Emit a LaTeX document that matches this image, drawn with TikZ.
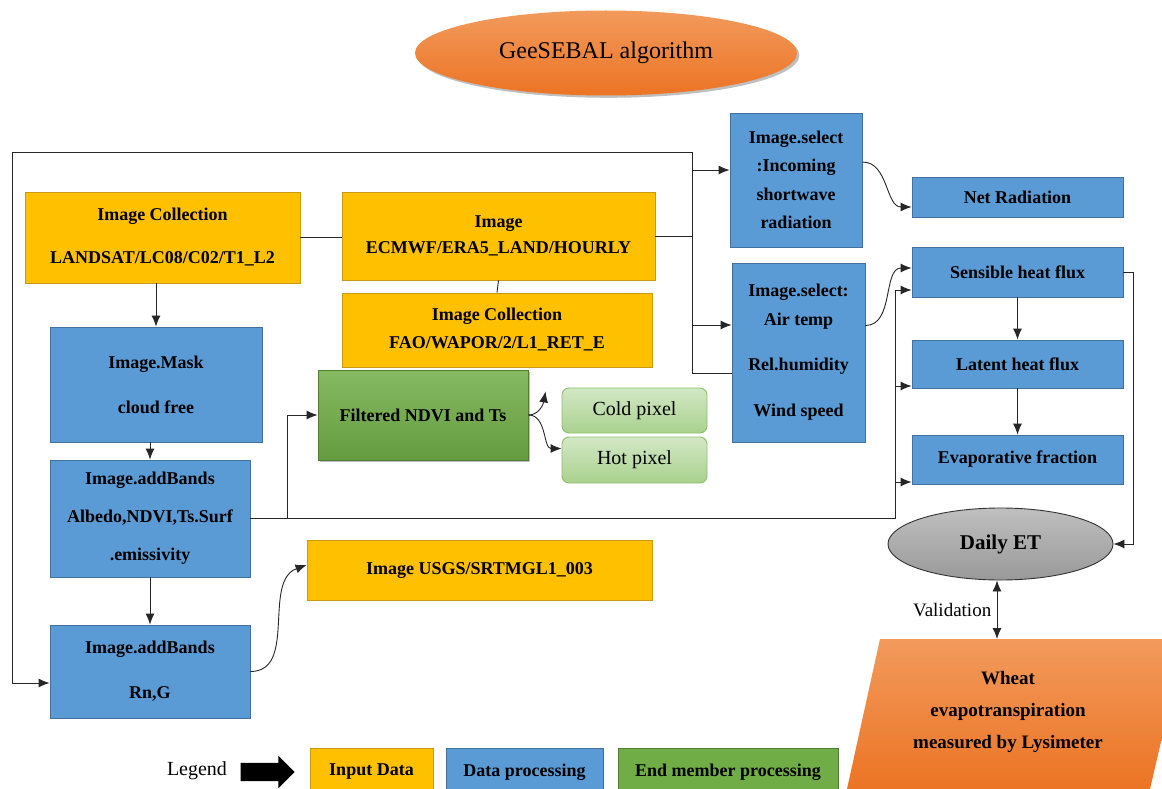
\documentclass[tikz,border=0pt]{standalone}
\usepackage{fontspec}
\setmainfont{Liberation Serif}
\usetikzlibrary{shapes.geometric}
\usetikzlibrary{shapes.arrows}
\usetikzlibrary{shadows}
\usetikzlibrary{arrows.meta}

\definecolor{inputfill}{HTML}{FFC000}
\definecolor{inputline}{HTML}{C99A10}
\definecolor{procfill}{HTML}{5B9BD5}
\definecolor{procline}{HTML}{41719C}
\definecolor{endfill}{HTML}{70AD47}
\definecolor{endline}{HTML}{507E32}
\definecolor{pixtop}{HTML}{D3E8C6}
\definecolor{pixbot}{HTML}{A9D18E}
\definecolor{pixline}{HTML}{8CC168}
\definecolor{orangetop}{HTML}{F29A5C}
\definecolor{orangebot}{HTML}{EC7424}

\tikzset{
  base/.style={align=center, inner sep=0pt, line width=0.9pt, font=\bfseries\fontsize{18}{22}\selectfont},
  inbox/.style={base, draw=inputline, fill=inputfill},
  procbox/.style={base, draw=procline, fill=procfill},
  endbox/.style={base, draw=endline, fill=endfill},
  pixbox/.style={base, font=\fontsize{20}{24}\selectfont, rounded corners=7pt, draw=pixline, top color=pixtop, bottom color=pixbot},
  conn/.style={line width=0.9pt, draw=black!85},
  arr/.style={conn, -{Latex[length=11pt, width=9pt]}},
}

\begin{document}
\begin{tikzpicture}[x=1pt, y=-1pt]

      % Page frame
      \fill[white] (0,0) rectangle (1162,789);
      \useasboundingbox (0,0) rectangle (1162,789);
      \clip (0,0) rectangle (1162,789);

      % Title
      \node[ellipse, minimum width=382pt, minimum height=85pt, top color=orangetop, bottom color=orangebot,
            drop shadow, font=\fontsize{24}{28}\selectfont] (title) at (606,53) {GeeSEBAL algorithm};

      % Input data
      \node[inbox, minimum width=275pt, minimum height=91pt] (land) at (162.5,237.5) {Image Collection\\[21pt]LANDSAT/LC08/C02/T1\_L2};
      \node[inbox, minimum width=313pt, minimum height=88pt] (era) at (498.5,236) {Image\\[4pt]ECMWF/ERA5\_LAND/HOURLY};
      \node[inbox, minimum width=310pt, minimum height=74pt] (fao) at (497,330) {Image Collection\\[6pt]FAO/WAPOR/2/L1\_RET\_E};
      \node[inbox, minimum width=345pt, minimum height=60pt] (usgs) at (479.5,570) {Image USGS/SRTMGL1\_003};

      % Data processing
      \node[procbox, minimum width=212pt, minimum height=115pt] (mask) at (156,384.5) {Image.Mask\\[23pt]cloud free};
      \node[procbox, minimum width=200pt, minimum height=117pt] (bands) at (150,518.5) {Image.addBands\\[16pt]Albedo,NDVI,Ts.Surf\\[16pt].emissivity};
      \node[procbox, minimum width=200pt, minimum height=93pt] (rng) at (150,671.5) {Image.addBands\\[23pt]Rn,G};
      \node[procbox, minimum width=132pt, minimum height=134pt] (inc) at (796,180) {Image.select\\[6.5pt]:Incoming\\[6.5pt]shortwave\\[6.5pt]radiation};
      \node[procbox, minimum width=133pt, minimum height=179pt] (air) at (798.5,352.5) {Image.select:\\[7pt]Air temp\\[23pt]Rel.humidity\\[24pt]Wind speed};
      \node[procbox, minimum width=211pt, minimum height=40pt] (net) at (1017.5,197) {Net Radiation};
      \node[procbox, minimum width=211pt, minimum height=50pt] (sens) at (1017.5,272) {Sensible heat flux};
      \node[procbox, minimum width=211pt, minimum height=48pt] (lat) at (1017.5,364) {Latent heat flux};
      \node[procbox, minimum width=211pt, minimum height=49pt] (evap) at (1017.5,459.5) {Evaporative fraction};

      % End member processing
      \node[endbox, minimum width=210pt, minimum height=90pt, top color=endfill!85!white, bottom color=endfill!90!black,
            drop shadow] (filt) at (423,415) {Filtered NDVI and Ts};
      \node[pixbox, minimum width=145pt, minimum height=45pt] (cold) at (634.5,410.5) {Cold pixel};
      \node[pixbox, minimum width=145pt, minimum height=46pt] (hot) at (634.5,460) {Hot pixel};

      % Output and validation
      \node[ellipse, draw=black!80, line width=0.9pt, top color=gray!50, bottom color=gray!80, minimum width=225pt,
            minimum height=72pt, font=\bfseries\fontsize{21}{25}\selectfont] (daily) at (1000.5,544) {Daily ET};
      \shade[top color=orangetop, bottom color=orangebot] (847,789) -- (880,639) -- (1185,639) -- (1150,789) -- cycle;
      \coordinate (lystop) at (997,639);
      \node[base, font=\bfseries\fontsize{19}{32}\selectfont] (lys) at (1008,712) {Wheat\\evapotranspiration\\measured by Lysimeter};
      \draw[conn, {Latex[length=11pt, width=9pt]}-{Latex[length=11pt, width=9pt]}] (daily.south -| lystop) -- (lystop)
            node[midway, left=2pt, font=\fontsize{19}{22}\selectfont] (valid) {Validation};

      % Legend
      \node[font=\fontsize{20}{24}\selectfont] (legend) at (197,771) {Legend};
      \node[single arrow, fill=black, minimum height=54pt, minimum width=32pt, single arrow head extend=7pt,
            inner xsep=0pt, inner ysep=9pt] (legarrow) at (263,772) {};
      \node[inbox, minimum width=123pt, minimum height=48pt] (leginput) at (371.5,772) {Input Data};
      \node[procbox, minimum width=157pt, minimum height=48pt] (legproc) at (524.5,772) {Data processing};
      \node[endbox, minimum width=220pt, minimum height=48pt] (legend2) at (728,772) {End member processing};

      % Outer loop back to Rn,G
      \coordinate (tl) at (12,152);
      \coordinate (tr) at (692,152);
      \draw[arr] (air.west |- 0,373) -| (tr) -- (tl) |- (rng.west |- 0,683);
      \draw[arr] (tr |- 0,170) -- (inc.west |- 0,170);
      \draw[arr] (tr |- 0,325) -- (air.west |- 0,325);
      \draw[conn] (era.east) -- (tr |- era.east);
      \draw[conn] (land.east) -- (era.west |- land.east);
      \draw[conn] (era.south) -- (fao.north);

      % Left column
      \draw[arr] (mask.north |- land.south) -- (mask.north);
      \draw[arr] (bands.north |- mask.south) -- (bands.north);
      \draw[arr] (bands.south) -- (rng.north);
      \draw[arr] (rng.east) to[out=0, in=200] ([yshift=5pt]usgs.west);

      % Bands to end members and fluxes
      \coordinate (split) at (bands.east -| 287,0);
      \coordinate (rail) at (bands.east -| 895,0);
      \draw[arr] (bands.east) -- (split) |- (filt.west);
      \draw[conn] (split) -- (rail) -- (rail |- 0,290);
      \draw[arr] (rail |- 0,290) -- (sens.west |- 0,290);
      \draw[arr] (rail |- 0,386) -- (lat.west |- 0,386);
      \draw[arr] (rail |- 0,482) -- (evap.west |- 0,482);
      \draw[arr] (filt.east) to[out=0, in=-100] ([xshift=-16pt, yshift=42pt]cold.south west);
      \draw[arr] (filt.east) to[out=0, in=180] ([yshift=-12pt]hot.north west);

      % Right column
      \draw[arr] ([yshift=18pt]inc.east) to[out=0, in=180] ([yshift=-10pt]net.west);
      \draw[arr] ([yshift=27pt]air.east) to[out=0, in=180] ([yshift=4pt]sens.west);
      \draw[arr] (sens.south) -- (lat.north);
      \draw[arr] (lat.south) -- (evap.north);
      \draw[arr] (sens.east) -- ++(10,0) |- (daily.east);

\end{tikzpicture}
\end{document}
